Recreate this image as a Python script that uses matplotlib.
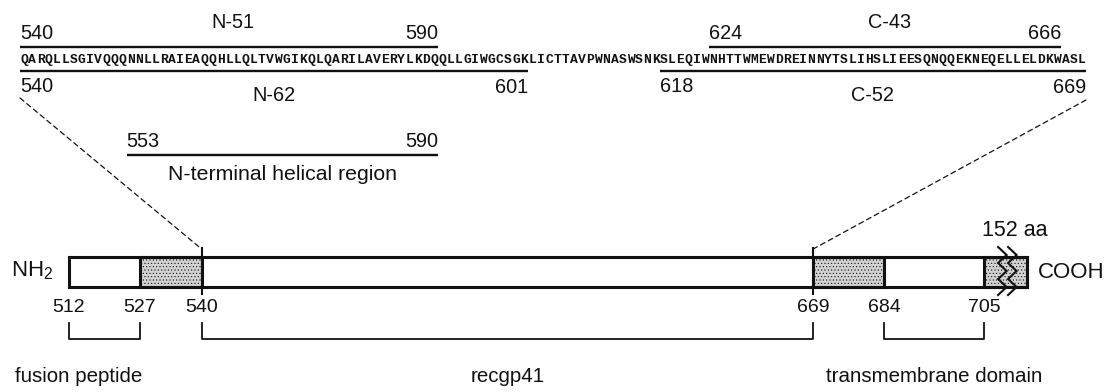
import matplotlib
matplotlib.use("Agg")
import matplotlib.pyplot as plt
from matplotlib.patches import Rectangle, ConnectionPatch
import numpy as np

# ---------------- data ----------------
sequence = ("QARQLLSGIVQQQNNLLRAIEAQQHLLQLTVWGIKQLQARILAVERYLKDQQLLGIWGCSGKLICTTAVP"
            "WNASWSNKSLEQIWNHTTWMEWDREINNYTSLIHSLIEESQNQQEKNEQELLELDKWASL")
seq_start = 540

pep_above_names = ["N-51", "C-43"]
pep_above_start = [540, 624]
pep_above_end = [590, 666]

pep_below_names = ["N-62", "C-52"]
pep_below_start = [540, 618]
pep_below_end = [601, 669]

helix_name = "N-terminal helical region"
helix_start, helix_end = 553, 590

bar_start = 512
bar_cut = 714          # drawn (truncated) end of the bar
shaded_start = [527, 669, 705]
shaded_end = [540, 684, bar_cut]
bar_ticks = [512, 527, 540, 669, 684, 705]

bracket_names = ["fusion peptide", "recgp41", "transmembrane domain"]
bracket_start = [512, 540, 684]
bracket_end = [527, 669, 705]
bracket_label_shift = [-5.5, 0, 0]

extra_label = "152 aa"
zoom_from = [540, 669]

# ---------------- style ----------------
plt.rcParams["font.family"] = ["Liberation Sans", "DejaVu Sans"]
plt.rcParams["mathtext.fontset"] = "custom"
plt.rcParams["mathtext.rm"] = "Liberation Sans"
plt.rcParams["hatch.color"] = "#7a7a7a"
plt.rcParams["hatch.linewidth"] = 0.4
FS = 14.3
INK = "#111111"

fig = plt.figure(figsize=(11.07, 3.92), dpi=100)
ax_top = fig.add_axes([0, 0, 1, 1])
ax_bot = fig.add_axes([0, 0, 1, 1])
for ax in (ax_top, ax_bot):
    ax.set_axis_off()
    ax.set_ylim(392, 0)
ax_bot.patch.set_visible(False)

# top axis: one unit per residue (monospaced sequence)
ax_top.set_xlim(537.06, 672.06)
# bottom axis: schematic protein bar
ax_bot.set_xlim(497.48, 730.97)

# ---- sequence ----
for i, ch in enumerate(sequence):
    ax_top.text(seq_start + i, 60, ch, ha="center", va="center",
                family="Liberation Mono", fontsize=9.4, fontweight="bold", color=INK)

LW_PEP = 1.7
y_above, y_below = 47, 71
for name, s, e in zip(pep_above_names, pep_above_start, pep_above_end):
    ax_top.plot([s - 0.5, e + 0.5], [y_above, y_above], color=INK, lw=LW_PEP,
                solid_capstyle="butt")
    ax_top.text(s - 0.5, 33, str(s), ha="left", va="center", fontsize=FS, color=INK)
    ax_top.text(e + 0.5, 33, str(e), ha="right", va="center", fontsize=FS, color=INK)
    ax_top.text((s + e) / 2 + 0.5, 22, name, ha="center", va="center", fontsize=FS, color=INK)

for name, s, e in zip(pep_below_names, pep_below_start, pep_below_end):
    ax_top.plot([s - 0.5, e + 0.5], [y_below, y_below], color=INK, lw=LW_PEP,
                solid_capstyle="butt")
    ax_top.text(s - 0.5, 86, str(s), ha="left", va="center", fontsize=FS, color=INK)
    ax_top.text(e + 0.5, 87, str(e), ha="right", va="center", fontsize=FS, color=INK)
    ax_top.text((s + e) / 2, 95, name, ha="center", va="center", fontsize=FS, color=INK)

# ---- N-terminal helical region ----
ax_top.plot([helix_start - 0.5, helix_end + 0.5], [155, 155], color=INK, lw=LW_PEP,
            solid_capstyle="butt")
ax_top.text(helix_start - 0.5, 141, str(helix_start), ha="left", va="center", fontsize=FS, color=INK)
ax_top.text(helix_end + 0.5, 141, str(helix_end), ha="right", va="center", fontsize=FS, color=INK)
ax_top.text((helix_start + helix_end) / 2, 174, helix_name, ha="center", va="center",
            fontsize=15.3, color=INK)

# ---- protein bar ----
bar_top, bar_bot = 257, 287
LW_BAR = 2.2
for s, e in zip(shaded_start, shaded_end):
    ax_bot.add_patch(Rectangle((s, bar_top), e - s, bar_bot - bar_top,
                               facecolor="#d2d2d2", edgecolor=INK, hatch=".....",
                               lw=LW_BAR, zorder=2))
ax_bot.add_patch(Rectangle((bar_start, bar_top), bar_cut - bar_start, bar_bot - bar_top,
                           facecolor="none", edgecolor=INK, lw=LW_BAR, zorder=3))
for z in zoom_from:
    ax_bot.plot([z, z], [248, 294], color=INK, lw=1.5, zorder=4)

# zig-zag cut marks
zy = np.arange(247, 300, 8.0)
for cx in (708.9, 711.0):
    zx = cx + 0.9 * np.where(np.arange(len(zy)) % 2 == 0, -1, 1)
    ax_bot.plot(zx, zy, color=INK, lw=1.5, zorder=5, solid_joinstyle="miter")
ax_bot.text(711.6, 230, extra_label, ha="center", va="center", fontsize=15.5, color=INK)

ax_bot.text(bar_start - 3.3, 271, r"NH$_\mathregular{2}$", ha="right", va="center",
            fontsize=16, color=INK)
ax_bot.text(bar_cut + 2.4, 272, "COOH", ha="left", va="center", fontsize=16, color=INK)

for t in bar_ticks:
    ax_bot.text(t, 308, str(t), ha="center", va="center", fontsize=14, color=INK)

# brackets
for name, s, e, dx in zip(bracket_names, bracket_start, bracket_end, bracket_label_shift):
    ax_bot.plot([s, s, e, e], [323, 339, 339, 323], color=INK, lw=1.3)
    ax_bot.text((s + e) / 2 + dx, 377, name, ha="center", va="center", fontsize=14.8, color=INK)

# dashed zoom lines from the bar to the sequence
top_ends = [(seq_start - 0.5, 98), (seq_start + len(sequence) - 0.5, 100)]
for z, (tx, ty) in zip(zoom_from, top_ends):
    con = ConnectionPatch(xyA=(tx, ty), coordsA=ax_top.transData,
                          xyB=(z, 249), coordsB=ax_bot.transData,
                          linestyle=(0, (4, 3)), lw=0.9, color=INK)
    fig.add_artist(con)

fig.savefig("out.png", dpi=100, facecolor="white")
